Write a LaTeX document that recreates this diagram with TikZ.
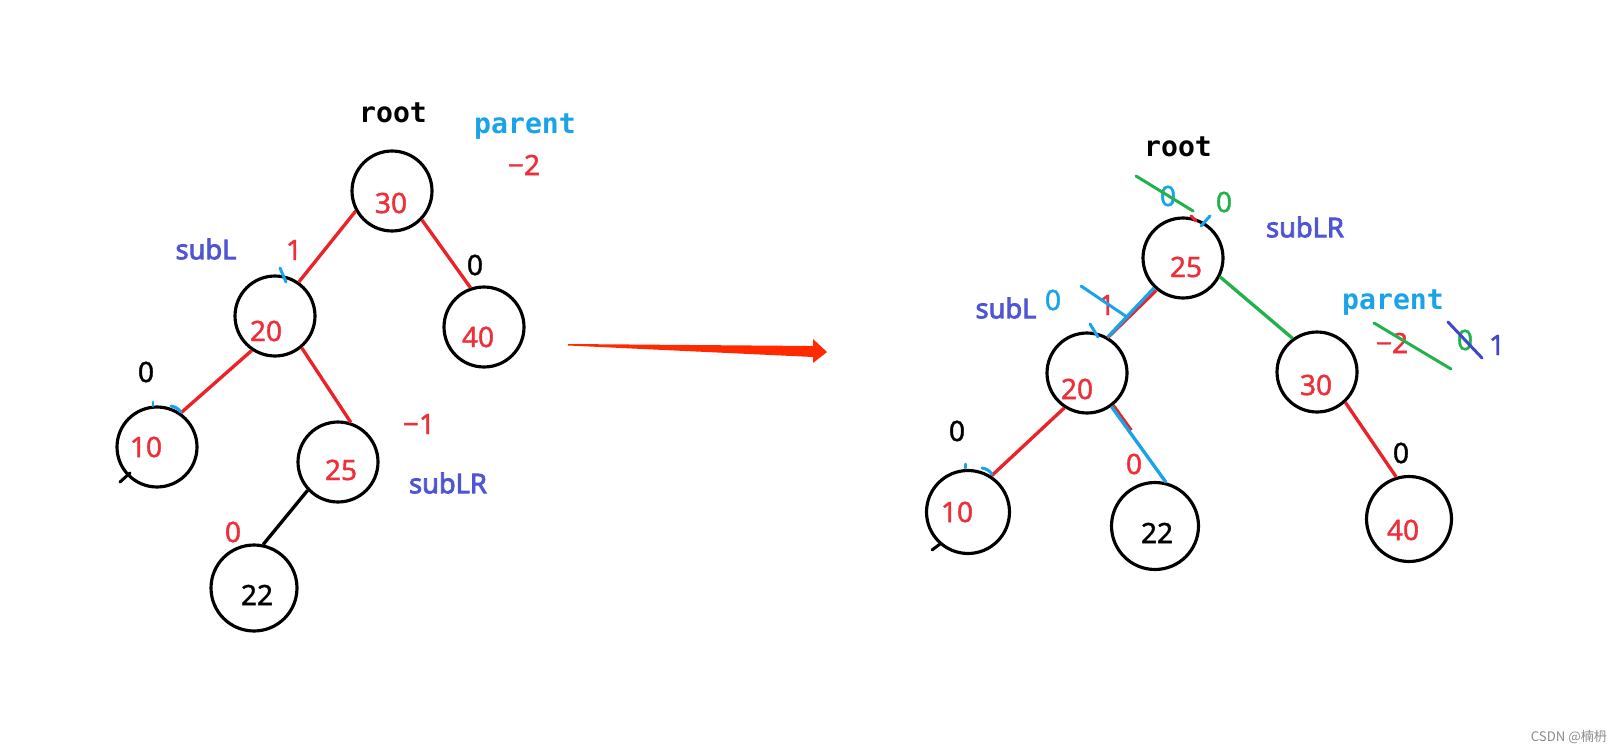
\documentclass[tikz,border=0pt]{standalone}
\usepackage{fontspec}
\setmainfont{Noto Sans}[FakeBold=1.4]
\newfontfamily\monofont{DejaVu Sans Mono}
\newfontfamily\subfont{Noto Sans}[FakeBold=3]
\newfontfamily\cjkfont{Noto Sans CJK SC}
\usetikzlibrary{calc}
\definecolor{edgered}{HTML}{EC2229}
\definecolor{numred}{HTML}{EE2F3A}
\definecolor{subblue}{HTML}{4F55D3}
\definecolor{skyblue}{HTML}{1AA3E8}
\definecolor{grn}{HTML}{22B24C}
\definecolor{darkblue}{HTML}{3F47CC}
\definecolor{arrowred}{HTML}{FF2A00}
\begin{document}
\begin{tikzpicture}[x=0.02cm,y=-0.02cm,
  vtx/.style={circle,draw,line width=1.8pt,minimum size=1.6cm,inner sep=0pt},
  num/.style={inner sep=0pt,font=\fontsize{16}{18}\selectfont},
  tag/.style={inner sep=0pt,font=\monofont\bfseries\fontsize{16}{18}\selectfont},
  stag/.style={inner sep=0pt,text=subblue,font=\subfont\fontsize{15.5}{18}\selectfont},
  edge/.style={line width=1.9pt},
  scrib/.style={line width=1.7pt,line cap=round}]
\fill[white] (0,0) rectangle (1618,753);
% left tree
\node[vtx] (v30) at (392,191) {};
\node[vtx] (v20) at (275,316) {};
\node[vtx] (v40) at (484,327) {};
\node[vtx] (v10) at (157,447) {};
\node[vtx] (v25) at (338,462) {};
\node[vtx,minimum size=1.72cm] (v22) at (254,588) {};
\node[num,text=numred] (n30) at (391,203) {30};
\node[num,text=numred] (n20) at (266,331) {20};
\node[num,text=numred] (n40) at (478,337) {40};
\node[num,text=numred] (n10) at (146,447) {10};
\node[num,text=numred] (n25) at (341,470) {25};
\node[num] (n22) at (257,595) {22};
\draw[edge,edgered] (v30.209) -- (v20.55);
\draw[edge,edgered] (v30.316) -- (v40.109);
\draw[edge,edgered] (v20.236) -- (v10.55);
\draw[edge,edgered] (v20.310) -- (v25.72);
\draw[edge] (v25.223) -- (v22.78);
\node[tag] (root1) at (393,113) {root};
\node[tag,text=skyblue] (par1) at (525,127) {parent};
\node[num,text=numred] (b30) at (524,165) {−2};
\node[stag] (subL1) at (206,249) {subL};
\node[num,text=numred] (b20) at (294,250) {1};
\node[num] (b40) at (475,265) {0};
\node[num] (b10) at (146,372) {0};
\node[num,text=numred] (b25) at (419,424) {−1};
\node[stag] (subLR1) at (448,483) {subLR};
\node[num,text=numred] (b22) at (233,532) {0};
\draw[scrib,skyblue] (280,268) -- (286,282);
\draw[scrib,skyblue] (153,402) -- (153,406);
\draw[scrib,skyblue] (171,406) to[bend left=20] (181,412);
\draw[scrib] (120,482) -- (130,473);
% arrow
\coordinate (aTail) at (568,344);
\coordinate (aTip) at (827,352);
\fill[arrowred] (aTail) -- ($(aTip)+(-14,-6)$) -- ($(aTip)+(-14,-13)$) -- (aTip)
  -- ($(aTip)+(-14,11)$) -- ($(aTip)+(-14,5)$) -- ($(aTail)+(0,1.5)$) -- cycle;
% right tree
\node[vtx] (w25) at (1183,258) {};
\node[vtx] (w20) at (1087,373) {};
\node[vtx] (w30) at (1317,372) {};
\node[vtx,minimum size=1.66cm] (w10) at (968,512) {};
\node[vtx,minimum size=1.74cm] (w22) at (1155,526) {};
\node[vtx,minimum size=1.7cm] (w40) at (1409,519) {};
\node[num,text=numred] (m25) at (1186,267) {25};
\node[num,text=numred] (m20) at (1077,389) {20};
\node[num,text=numred] (m30) at (1316,385) {30};
\node[num,text=numred] (m10) at (957,512) {10};
\node[num] (m22) at (1157,533) {22};
\node[num,text=numred] (m40) at (1403,530) {40};
\draw[edge,edgered] ($(w25.228)+(1,1.5)$) -- ($(w20.62)+(1,1.5)$);
\draw[edge,skyblue] (w25.226) -- (w20.60);
\draw[edge,grn] (w25.333) -- (w30.126);
\draw[edge,edgered] (w20.237) -- (w10.57);
\draw[edge,edgered] (w20.309) -- ($(w20.309)+(18,25)$);
\draw[edge,skyblue] (w20.306) -- (w22.76);
\draw[edge,edgered] (w30.313) -- (w40.107);
\node[tag] (root2) at (1178,147) {root};
\node[num,text=skyblue] (c25) at (1168,196) {0};
\node[num,text=grn] (g25) at (1224,202) {0};
\node[stag] (subLR2) at (1305,227) {subLR};
\node[stag] (subL2) at (1006,308) {subL};
\node[num,text=skyblue] (c20) at (1053,300) {0};
\node[num,text=numred] (r20) at (1107,305) {1};
\node[tag,text=skyblue] (par2) at (1393,303) {parent};
\node[num,text=numred] (r30) at (1392,343) {−2};
\node[num,text=grn] (g30) at (1465,340) {0};
\node[num,text=darkblue] (d30) at (1497,345) {1};
\node[num] (k10) at (957,431) {0};
\node[num,text=numred] (r22) at (1134,464) {0};
\node[num] (k40) at (1401,453) {0};
\draw[scrib,grn] (1136,176) -- (1193,211);
\draw[scrib,edgered] (1191,216) -- (1196,221);
\draw[scrib,skyblue] (1201,226) -- (1210,216);
\draw[scrib,skyblue] (1081,286) -- (1127,317);
\draw[scrib,skyblue] (1090,324) -- (1098,337);
\draw[scrib,grn] (1374,323) -- (1451,369);
\draw[scrib,darkblue] (1448,322) -- (1482,358);
\draw[scrib,skyblue] (965,464) -- (965,468);
\draw[scrib,skyblue] (982,468) to[bend left=20] (992,474);
\draw[scrib] (932,550) -- (940,544);
\node[inner sep=0pt,text=black!45,font=\cjkfont\fontsize{7.5}{9}\selectfont] (wm) at (1569,737) {CSDN @楠枬};
\end{tikzpicture}
\end{document}
